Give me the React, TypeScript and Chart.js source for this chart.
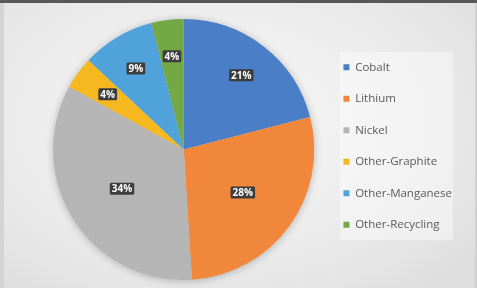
import React, { useEffect, useRef } from 'react';
import { Chart, registerables } from 'chart.js';

Chart.register(...registerables);

const categories = ['Cobalt', 'Lithium', 'Nickel', 'Other-Graphite', 'Other-Manganese', 'Other-Recycling'];
const shares = [21, 28, 34, 4, 9, 4];
const sliceColors = ['#4a7fc8', '#f0873a', '#b5b5b5', '#f5b81f', '#4fa2da', '#73a844'];

const shadowPlugin = {
  id: 'pieShadow',
  beforeDatasetsDraw(chart: any) {
    const meta = chart.getDatasetMeta(0);
    const arc = meta.data[0];
    if (!arc) return;
    const { x, y, outerRadius } = arc.getProps(['x', 'y', 'outerRadius'], true);
    const ctx = chart.ctx;
    ctx.save();
    ctx.shadowColor = 'rgba(0,0,0,0.28)';
    ctx.shadowBlur = 9;
    ctx.shadowOffsetX = 0;
    ctx.shadowOffsetY = 1;
    ctx.fillStyle = '#cccccc';
    ctx.beginPath();
    ctx.arc(x, y, outerRadius - 0.5, 0, Math.PI * 2);
    ctx.fill();
    ctx.restore();
  },
};

const labelPlugin = {
  id: 'sliceLabels',
  afterDatasetsDraw(chart: any) {
    const ctx = chart.ctx;
    const meta = chart.getDatasetMeta(0);
    const values = chart.data.datasets[0].data as number[];
    ctx.save();
    ctx.font = 'bold 10px "Open Sans", sans-serif';
    ctx.textAlign = 'center';
    ctx.textBaseline = 'middle';
    meta.data.forEach((el: any, i: number) => {
      const { x, y, startAngle, endAngle, outerRadius } = el.getProps(
        ['x', 'y', 'startAngle', 'endAngle', 'outerRadius'],
        true
      );
      const mid = (startAngle + endAngle) / 2;
      const frac = values[i] >= 25 ? 0.56 : 0.72;
      const px = x + Math.cos(mid) * outerRadius * frac;
      const py = y + Math.sin(mid) * outerRadius * frac;
      const text = values[i] + '%';
      const w = ctx.measureText(text).width + 4;
      const h = 12;
      ctx.fillStyle = '#3d3d3d';
      ctx.beginPath();
      (ctx as any).roundRect(px - w / 2, py - h / 2, w, h, 1.5);
      ctx.fill();
      ctx.fillStyle = '#ffffff';
      ctx.fillText(text, px, py + 0.5);
    });
    ctx.restore();
  },
};

export default function App() {
  const canvasRef = useRef<HTMLCanvasElement | null>(null);

  useEffect(() => {
    const canvas = canvasRef.current;
    if (!canvas) return;
    const chart = new Chart(canvas, {
      type: 'pie',
      data: {
        labels: categories,
        datasets: [
          {
            data: shares,
            backgroundColor: sliceColors,
            borderWidth: 0,
          },
        ],
      },
      options: {
        responsive: false,
        animation: false,
        devicePixelRatio: 1,
        layout: { padding: { top: 19, bottom: 8, left: 44, right: 15 } },
        plugins: {
          tooltip: { enabled: false },
          legend: {
            position: 'right',
            align: 'start',
            title: {
              display: true,
              text: '',
              font: { size: 10, lineHeight: 1.2 },
              padding: { top: 10.5, bottom: 0 },
            },
            labels: {
              boxWidth: 6,
              boxHeight: 6,
              padding: 20,
              color: '#5a5a5a',
              font: { family: '"Open Sans", sans-serif', size: 11.5 },
            },
          },
        },
      },
      plugins: [shadowPlugin, labelPlugin],
    });
    return () => chart.destroy();
  }, []);

  return (
    <div
      style={{
        position: 'fixed',
        left: 0,
        top: 0,
        width: 477,
        height: 288,
        overflow: 'hidden',
        background:
          'radial-gradient(ellipse 70% 75% at 45% 42%, #f6f6f6 0%, #efefef 45%, #e6e6e6 80%, #dedede 100%)',
      }}
    >
      <div style={{ position: 'absolute', left: 0, top: 0, width: 477, height: 3, background: '#575757' }} />
      <div style={{ position: 'absolute', left: 0, top: 3, width: 4, height: 285, background: '#d4d4d4' }} />
      <div style={{ position: 'absolute', right: 0, top: 3, width: 2, height: 285, background: '#d0d0d0' }} />
      <div
        style={{
          position: 'absolute',
          left: 340,
          top: 52,
          width: 113,
          height: 188,
          background: 'rgba(255,255,255,0.4)',
        }}
      />
      <canvas
        ref={canvasRef}
        width={477}
        height={288}
        style={{ position: 'absolute', left: 0, top: 0, width: 477, height: 288 }}
      />
    </div>
  );
}
